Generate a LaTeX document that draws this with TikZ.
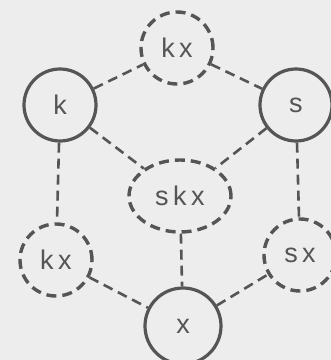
\documentclass[tikz,border=0pt]{standalone}
\usepackage{fontspec}
\setmainfont{Liberation Sans}
\usetikzlibrary{shapes.geometric}
\definecolor{ink}{HTML}{555555}
\definecolor{paper}{HTML}{EDEDED}
\tikzset{
  solidnode/.style={circle,draw=ink,line width=3.2pt,minimum size=72pt,inner sep=0pt,text=ink,font=\fontsize{27}{29}\selectfont},
  dashnode/.style={circle,draw=ink,line width=3.4pt,dash pattern=on 10pt off 6pt,minimum size=72pt,inner sep=0pt,text=ink,font=\fontsize{27}{29}\selectfont},
  link/.style={draw=ink,line width=2.6pt,dash pattern=on 10pt off 6pt}
}
\begin{document}
\begin{tikzpicture}[x=1pt,y=1pt]
\fill[paper] (0,0) rectangle (331,360);
\useasboundingbox (0,0) rectangle (331,360);
\clip (0,0) rectangle (331,360);
\node[dashnode] (kxt) at (177,312) {k\,x};
\node[solidnode] (k) at (60,255) {k};
\node[solidnode] (s) at (296,255) {s};
\node[dashnode,ellipse,minimum width=102pt,minimum height=72pt] (skx) at (180,164) {s\,k\,x};
\node[dashnode] (kxb) at (56,100) {k\,x};
\node[dashnode] (sx) at (300,105) {s\,x};
\node[solidnode,minimum size=76pt] (x) at (183,34) {x};
\draw[link] (k) -- (kxt);
\draw[link] (kxt) -- (s);
\draw[link] (k) -- (skx);
\draw[link] (s) -- (skx);
\draw[link] (k) -- (kxb);
\draw[link] (s) -- (sx);
\draw[link] (skx) -- (x);
\draw[link] (kxb) -- (x);
\draw[link] (x) -- (sx);
\end{tikzpicture}
\end{document}
